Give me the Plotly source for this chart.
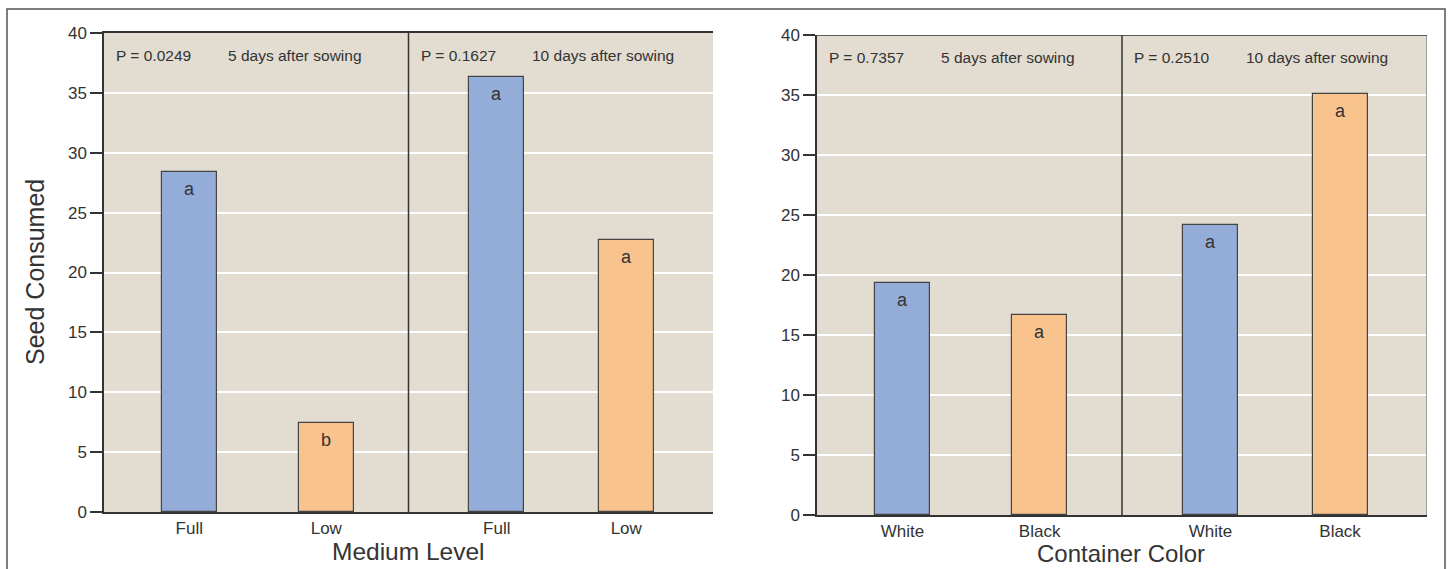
import plotly.graph_objects as go

# ---- data ----
medium_categories = ["Full", "Low", "Full", "Low"]
medium_values = [28.4, 7.4, 36.3, 22.7]
medium_letters = ["a", "b", "a", "a"]
medium_p = ["P = 0.0249", "P = 0.1627"]

container_categories = ["White", "Black", "White", "Black"]
container_values = [19.3, 16.7, 24.2, 35.1]
container_letters = ["a", "a", "a", "a"]
container_p = ["P = 0.7357", "P = 0.2510"]

periods = ["5 days after sowing", "10 days after sowing"]
y_ticks = [0, 5, 10, 15, 20, 25, 30, 35, 40]

# ---- layout constants ----
W, H = 1452, 569
FONT = "Liberation Sans, Arial, sans-serif"
BG = "#e2dcd1"
BLUE = "#94acd8"
ORANGE = "#f9c38e"
DARK = "#333333"
positions = [0.56, 1.46, 2.58, 3.43]
bar_colors = [BLUE, ORANGE, BLUE, ORANGE]


def px_x(p):
    return p / W


def px_y(p):
    return (H - p) / H


fig = go.Figure()

fig.add_trace(go.Bar(x=positions, y=medium_values, width=0.36,
                     marker=dict(color=bar_colors, line=dict(color="#444", width=1.2)),
                     xaxis="x", yaxis="y", showlegend=False, hoverinfo="skip"))
fig.add_trace(go.Bar(x=positions, y=container_values, width=0.36,
                     marker=dict(color=bar_colors, line=dict(color="#444", width=1.2)),
                     xaxis="x2", yaxis="y2", showlegend=False, hoverinfo="skip"))

annotations = []
for xs, ys, letters, xr, yr in [(positions, medium_values, medium_letters, "x", "y"),
                                (positions, container_values, container_letters, "x2", "y2")]:
    for x, y, t in zip(xs, ys, letters):
        annotations.append(dict(x=x, y=y, xref=xr, yref=yr, text=t, showarrow=False,
                                xanchor="center", yanchor="top", yshift=-5,
                                font=dict(family=FONT, size=18, color=DARK)))

for pvals, xr, yr in [(medium_p, "x", "y"), (container_p, "x2", "y2")]:
    for i in range(2):
        annotations.append(dict(x=2 * i + 0.066, y=38.1, xref=xr, yref=yr, text=pvals[i],
                                showarrow=False, xanchor="left", yanchor="middle",
                                font=dict(family=FONT, size=15.5, color=DARK)))
        annotations.append(dict(x=2 * i + 0.80, y=38.1, xref=xr, yref=yr, text=periods[i],
                                showarrow=False, xanchor="left", yanchor="middle",
                                font=dict(family=FONT, size=15.5, color=DARK)))

annotations.append(dict(x=px_x(35), y=px_y(272), xref="paper", yref="paper",
                        text="Seed Consumed", textangle=-90, showarrow=False,
                        xanchor="center", yanchor="middle",
                        font=dict(family=FONT, size=25, color=DARK)))
annotations.append(dict(x=px_x(408), y=px_y(551), xref="paper", yref="paper",
                        text="Medium Level", showarrow=False,
                        xanchor="center", yanchor="middle",
                        font=dict(family=FONT, size=24.5, color=DARK)))
annotations.append(dict(x=px_x(1121), y=px_y(553), xref="paper", yref="paper",
                        text="Container Color", showarrow=False,
                        xanchor="center", yanchor="middle",
                        font=dict(family=FONT, size=24, color=DARK)))

shapes = [
    # dividers between sowing periods
    dict(type="line", xref="x", yref="y", x0=2, x1=2, y0=0, y1=40,
         line=dict(color=DARK, width=1.5)),
    dict(type="line", xref="x2", yref="y2", x0=2, x1=2, y0=0, y1=40,
         line=dict(color=DARK, width=1.5)),
    # right border of right chart (lighter)
    dict(type="line", xref="x2", yref="y2", x0=4, x1=4, y0=0, y1=40,
         line=dict(color="#8a8a8a", width=1.5)),
    # top border of right chart
    dict(type="line", xref="x2", yref="y2", x0=0, x1=4, y0=40, y1=40,
         line=dict(color=DARK, width=1.5)),
    # outer frame
    dict(type="rect", xref="paper", yref="paper", x0=px_x(7), x1=px_x(1445),
         y0=-0.2, y1=px_y(9), line=dict(color="#555", width=1.5), layer="below"),
]

axis_common_y = dict(range=[0, 40], tickvals=y_ticks, showgrid=True, gridcolor="white",
                     gridwidth=2, zeroline=False, showline=True, linecolor=DARK, linewidth=1.5,
                     ticks="outside", ticklen=12, tickwidth=1.5, tickcolor=DARK,
                     tickfont=dict(family=FONT, size=17, color=DARK), fixedrange=True,
                     automargin=False)
axis_common_x = dict(range=[0, 4], tickvals=positions, showgrid=False, zeroline=False,
                     showline=True, linecolor=DARK, linewidth=1.5, ticks="",
                     tickfont=dict(family=FONT, size=17, color=DARK), fixedrange=True,
                     automargin=False)

fig.update_layout(
    width=W, height=H,
    margin=dict(l=0, r=0, t=0, b=0, autoexpand=False),
    paper_bgcolor="white",
    plot_bgcolor=BG,
    xaxis=dict(domain=[px_x(104), px_x(713)], anchor="y", ticktext=medium_categories,
               mirror=True, **axis_common_x),
    yaxis=dict(domain=[px_y(512), px_y(33)], anchor="x", **axis_common_y),
    xaxis2=dict(domain=[px_x(817), px_x(1427)], anchor="y2", ticktext=container_categories,
                **axis_common_x),
    yaxis2=dict(domain=[px_y(515), px_y(35)], anchor="x2", **axis_common_y),
    annotations=annotations,
    shapes=shapes,
    bargap=0,
)

post = ("document.documentElement.style.margin='0';"
        "document.documentElement.style.overflow='hidden';"
        "document.body.style.margin='0';"
        "document.body.style.overflow='hidden';"
        "var d=document.getElementById('{plot_id}');"
        "d.style.position='fixed';d.style.top='0px';d.style.left='0px';")

fig.write_html("out.html", config={"displayModeBar": False}, post_script=post)
